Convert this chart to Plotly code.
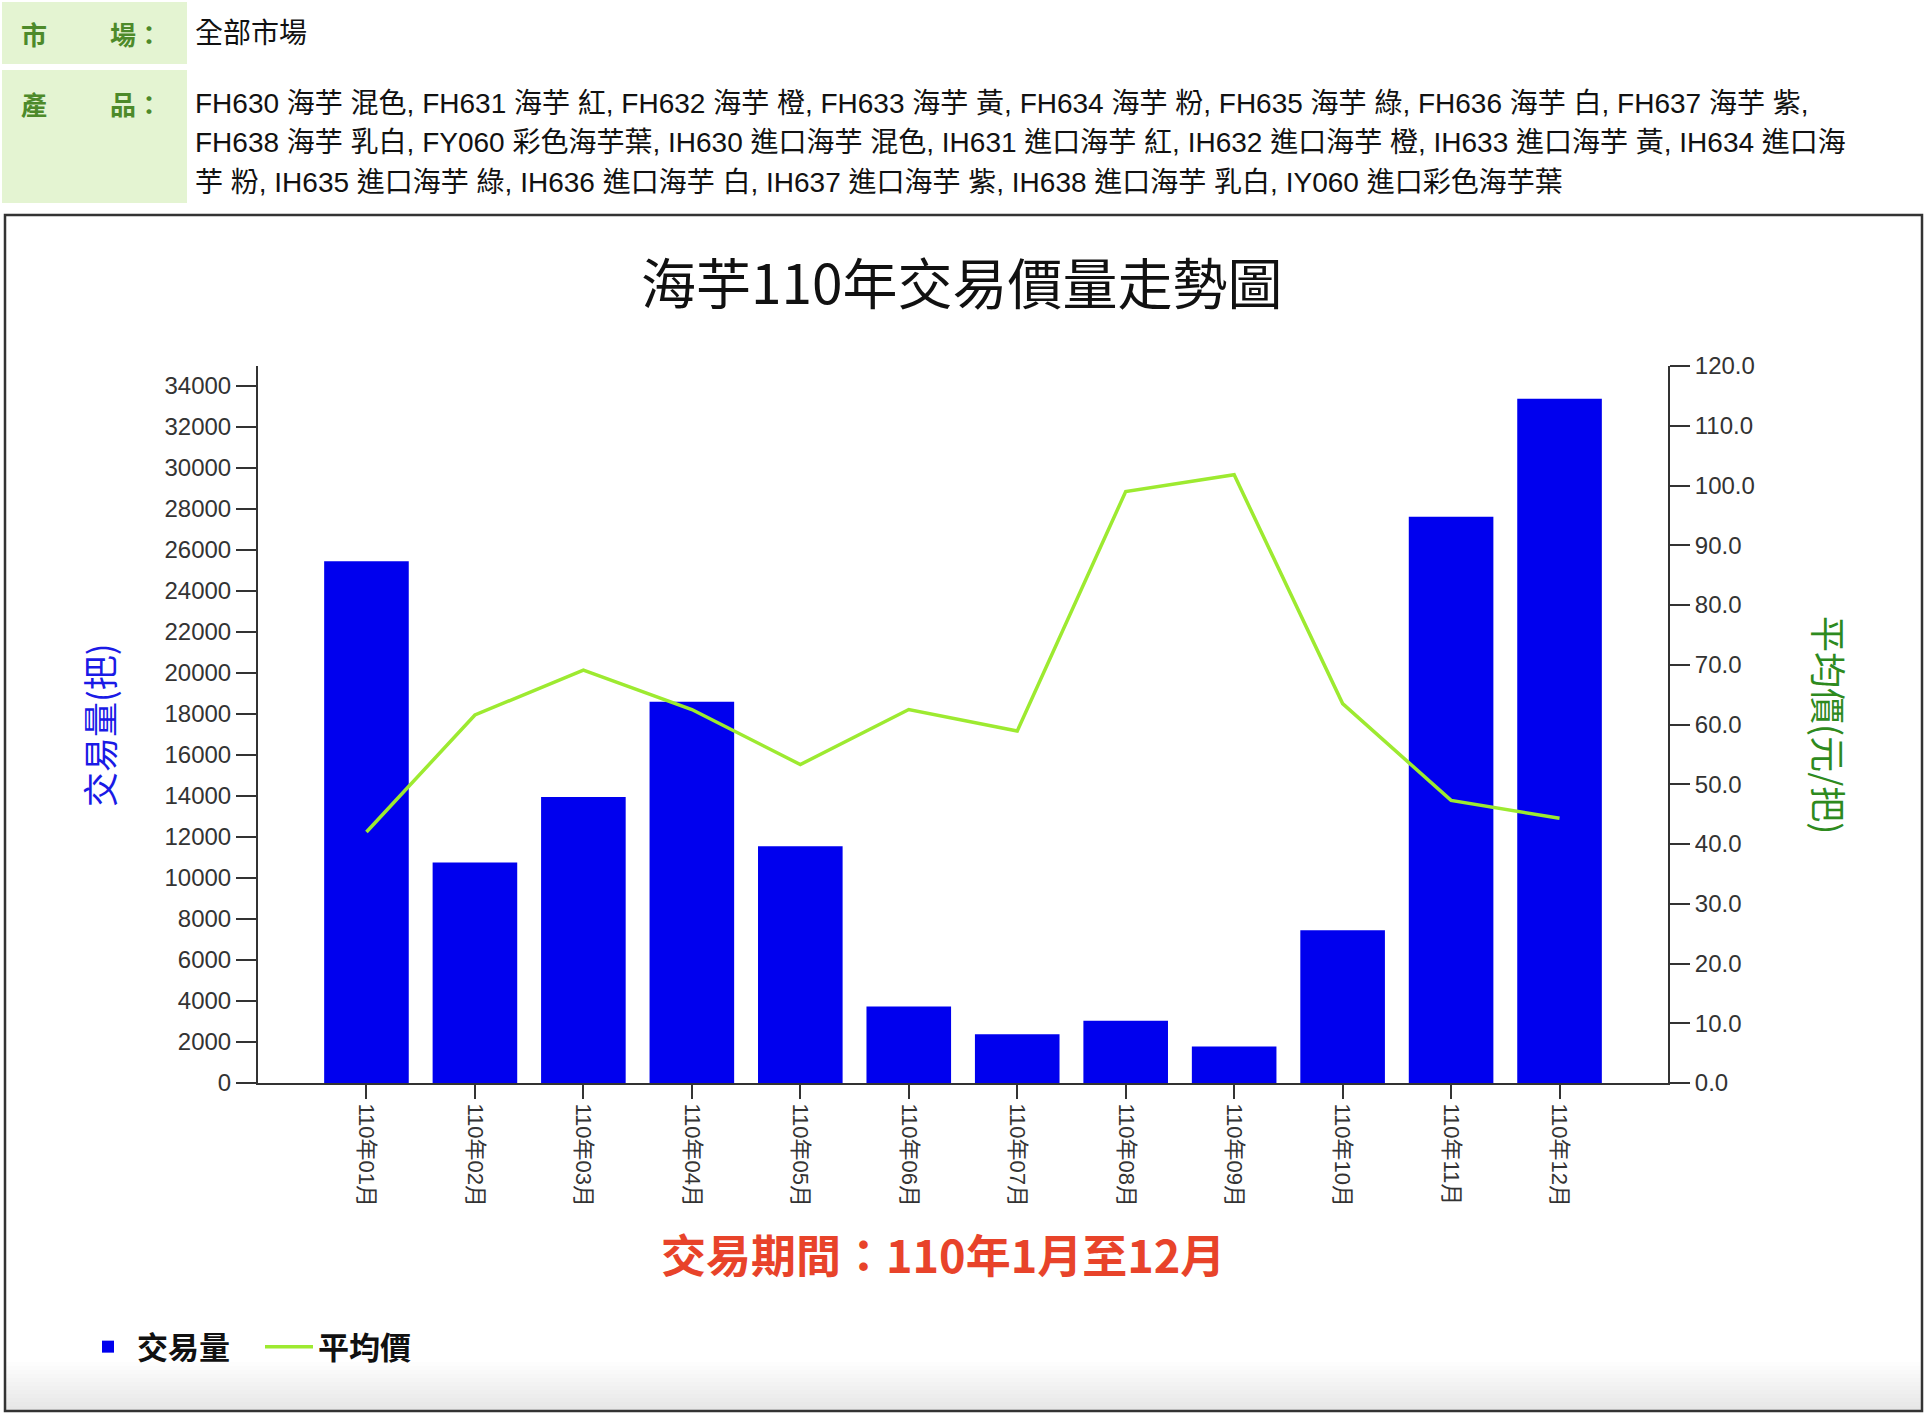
import plotly.graph_objects as go

# ---------------- data ----------------
months = ["110年01月", "110年02月", "110年03月", "110年04月", "110年05月", "110年06月",
          "110年07月", "110年08月", "110年09月", "110年10月", "110年11月", "110年12月"]
volume = [25450, 10750, 13950, 18600, 11550, 3730, 2380, 3040, 1780, 7450, 27620, 33370]
price = [42.0, 61.6, 69.1, 62.5, 53.3, 62.5, 58.9, 99.0, 101.8, 63.5, 47.3, 44.3]

title_text = "海芋110年交易價量走勢圖"
period_text = "交易期間：110年1月至12月"
market_text = "全部市場"
product_lines = [
    "FH630 海芋 混色, FH631 海芋 紅, FH632 海芋 橙, FH633 海芋 黃, FH634 海芋 粉, FH635 海芋 綠, FH636 海芋 白, FH637 海芋 紫,",
    "FH638 海芋 乳白, FY060 彩色海芋葉, IH630 進口海芋 混色, IH631 進口海芋 紅, IH632 進口海芋 橙, IH633 進口海芋 黃, IH634 進口海",
    "芋 粉, IH635 進口海芋 綠, IH636 進口海芋 白, IH637 進口海芋 紫, IH638 進口海芋 乳白, IY060 進口彩色海芋葉",
]

# ---------------- layout geometry (pixels) ----------------
W, H = 1926, 1414
PL, PR, PT, PB = 258, 1668, 366, 1083


def fx(px):
    return (px - PL) / (PR - PL)


def fy(py):
    return (PB - py) / (PB - PT)


SANS = "Liberation Sans, Noto Sans CJK TC, sans-serif"
CJK = "Noto Sans CJK TC, sans-serif"

fig = go.Figure()
fig.add_trace(go.Bar(
    x=months, y=volume, name="交易量",
    marker=dict(color="#0000ee", line=dict(width=0)),
    yaxis="y",
))
fig.add_trace(go.Scatter(
    x=months, y=price, name="平均價", mode="lines",
    line=dict(color="#9dea30", width=3.5),
    yaxis="y2",
))

shapes = []
# header label cells
shapes.append(dict(type="rect", xref="paper", yref="paper", x0=fx(2), x1=fx(187), y0=fy(2), y1=fy(64),
                   fillcolor="#e4f4d2", line=dict(width=0), layer="below"))
shapes.append(dict(type="rect", xref="paper", yref="paper", x0=fx(2), x1=fx(187), y0=fy(70), y1=fy(203),
                   fillcolor="#e4f4d2", line=dict(width=0), layer="below"))
# bottom gradient inside frame
for i in range(12):
    shapes.append(dict(type="rect", xref="paper", yref="paper", x0=fx(6), x1=fx(1921),
                       y0=fy(1411), y1=fy(1362 + i * 4),
                       fillcolor="rgba(0,0,0,0.008)", line=dict(width=0), layer="below"))
# chart frame
shapes.append(dict(type="rect", xref="paper", yref="paper", x0=fx(5), x1=fx(1922), y0=fy(215), y1=fy(1411),
                   fillcolor="rgba(0,0,0,0)", line=dict(color="#333333", width=2.5), layer="below"))

annotations = []


def ann(text, x, y, size, color="#000000", family=SANS, xanchor="left", yanchor="middle",
        angle=0, weight="normal"):
    annotations.append(dict(text=text, x=fx(x), y=fy(y), xref="paper", yref="paper",
                            xanchor=xanchor, yanchor=yanchor, showarrow=False, textangle=angle,
                            font=dict(size=size, color=color, family=family, weight=weight)))


LABEL_GREEN = "#4d8a2a"
ann("市", 19, 34, 26, LABEL_GREEN, CJK, weight="bold")
ann("場：", 108, 34, 26, LABEL_GREEN, CJK, weight="bold")
ann("產", 19, 103, 26, LABEL_GREEN, CJK, weight="bold")
ann("品：", 108, 103, 26, LABEL_GREEN, CJK, weight="bold")
ann(market_text, 193, 34, 28, "#111111")
for i, line in enumerate(product_lines):
    ann(line, 193, [103, 142.5, 182][i], 28, "#111111")

ann(title_text, 962, 280, 55, "#111111", CJK, xanchor="center")
ann(period_text, 943, 1253, 45, "#e8432a", CJK, xanchor="center", weight="bold")
ann("交易量(把)", 98, 725, 35, "#1a1ae6", CJK, xanchor="center", angle=-90)
ann("平均價(元/把)", 1830, 725, 36, "#2e8a1e", CJK, xanchor="center", angle=90)

fig.update_layout(
    width=W, height=H,
    margin=dict(l=PL, r=W - PR, t=PT, b=H - PB, pad=0),
    paper_bgcolor="white", plot_bgcolor="white",
    bargap=0.22,
    showlegend=True,
    legend=dict(orientation="h", x=fx(79), y=fy(1347), xanchor="left", yanchor="middle",
                font=dict(size=31, family=CJK, color="#111111", weight="bold"),
                itemwidth=48, entrywidth=118, entrywidthmode="pixels",
                bgcolor="rgba(0,0,0,0)", traceorder="normal"),
    xaxis=dict(
        type="category", range=[-1, 12], showgrid=False, zeroline=False,
        showline=True, linecolor="#333333", linewidth=2,
        ticks="outside", ticklen=14, tickwidth=1.5, tickcolor="#333333",
        tickangle=90, tickfont=dict(size=22, family=SANS, color="#333333"),
    ),
    yaxis=dict(
        range=[0, 34970], dtick=2000, tick0=0, tickformat="d", showgrid=False, zeroline=False,
        showline=True, linecolor="#333333", linewidth=2,
        ticks="outside", ticklen=20, tickwidth=1.5, tickcolor="#333333",
        tickfont=dict(size=24, family=SANS, color="#333333"),
    ),
    yaxis2=dict(
        overlaying="y", side="right", range=[0, 120], dtick=10, tick0=0,
        tickformat=".1f", showgrid=False, zeroline=False,
        showline=True, linecolor="#333333", linewidth=2,
        ticks="outside", ticklen=20, tickwidth=1.5, tickcolor="#333333",
        tickfont=dict(size=24, family=SANS, color="#333333"),
    ),
    shapes=shapes,
    annotations=annotations,
)

fig.write_html("out.html")
